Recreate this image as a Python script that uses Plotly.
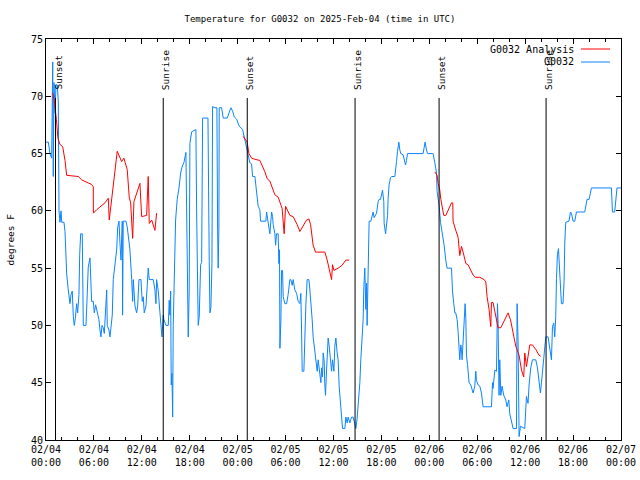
import pandas as pd
import plotly.graph_objects as go

BASE = pd.Timestamp("2025-02-04 00:00")

# ---- data (hours since 2025-02-04 00:00 UTC, degrees F) ----
obs_hours = [0.00, 0.29, 0.50, 0.71, 0.84, 0.91, 1.00, 1.13, 1.25, 1.41, 1.54, 1.63, 1.75, 1.88, 1.97, 2.25, 2.38, 2.50, 2.59, 2.79,
             2.92, 3.00, 3.13, 3.29, 3.42, 3.54, 3.67, 3.84, 3.96, 4.13, 4.22, 4.34, 4.54, 4.59, 4.67, 5.01, 5.09, 5.29, 5.51, 5.63,
             5.71, 5.92, 6.05, 6.22, 6.42, 6.63, 6.76, 6.88, 7.01, 7.17, 7.30, 7.47, 7.60, 7.67, 7.88, 8.01, 8.14, 8.30, 8.42, 8.64,
             8.85, 8.97, 9.14, 9.26, 9.39, 9.55, 9.59, 9.67, 10.01, 10.17, 10.30, 10.51, 10.73, 10.85, 10.93, 11.05, 11.14, 11.35, 11.48, 11.64,
             11.89, 12.05, 12.18, 12.30, 12.52, 12.68, 12.80, 12.93, 13.43, 13.64, 13.77, 13.85, 14.06, 14.27, 14.39, 14.52, 14.68, 14.77, 15.02, 15.31,
             15.43, 15.52, 15.61, 15.68, 15.77, 15.86, 15.93, 16.02, 16.11, 16.23, 16.36, 16.43, 16.65, 16.86, 17.06, 17.27, 17.52, 17.68, 17.81, 17.93,
             18.02, 18.24, 18.77, 18.86, 18.94, 19.06, 19.19, 19.36, 19.49, 19.51, 19.61, 20.28, 20.31, 20.44, 20.53, 20.65, 20.78, 20.86, 21.15, 21.40,
             21.49, 21.56, 21.65, 21.69, 21.99, 22.19, 22.69, 22.94, 23.15, 23.37, 23.57, 23.87, 24.19, 24.62, 24.78, 24.91, 25.12, 25.32, 25.53, 25.74,
             25.87, 26.16, 26.24, 26.44, 26.57, 26.78, 26.87, 27.53, 27.62, 27.82, 27.95, 28.03, 28.25, 28.37, 28.45, 28.66, 28.75, 28.87, 29.07, 29.16,
             29.24, 29.29, 29.41, 29.50, 29.62, 29.70, 29.91, 30.13, 30.32, 30.54, 30.66, 30.83, 30.95, 31.16, 31.38, 31.58, 31.79, 31.91, 32.00, 32.08,
             32.29, 32.41, 32.54, 32.70, 32.92, 33.04, 33.17, 33.33, 33.45, 33.67, 33.79, 33.96, 34.08, 34.21, 34.29, 34.42, 34.51, 34.63, 34.71, 34.83,
             34.92, 35.00, 35.13, 35.26, 35.33, 35.46, 35.63, 35.76, 35.88, 36.05, 36.17, 36.30, 36.46, 36.58, 36.71, 36.88, 37.01, 37.13, 37.42, 37.55,
             37.71, 37.83, 38.05, 38.26, 38.46, 38.59, 38.80, 38.96, 39.09, 39.30, 39.42, 39.51, 39.64, 39.71, 39.80, 39.92, 40.05, 40.14, 40.21, 40.34,
             40.46, 40.68, 40.84, 40.96, 41.09, 41.26, 41.39, 41.59, 41.71, 41.89, 42.01, 42.14, 42.30, 42.34, 42.52, 42.64, 42.77, 42.84, 42.97, 43.14,
             43.27, 43.68, 43.80, 43.89, 44.02, 44.18, 44.31, 44.43, 44.72, 44.84, 45.02, 45.14, 45.27, 47.22, 47.34, 47.47, 47.65, 47.77, 48.40, 48.47,
             48.69, 48.90, 48.97, 49.22, 49.40, 49.65, 49.85, 50.06, 50.22, 50.78, 50.90, 51.06, 51.19, 51.31, 51.48, 51.60, 51.73, 51.81, 51.94, 52.03,
             52.10, 52.23, 52.35, 52.48, 52.57, 52.65, 52.78, 52.85, 52.98, 53.19, 53.35, 53.48, 53.69, 53.82, 53.90, 54.11, 54.32, 54.53, 54.73, 55.78,
             55.91, 55.98, 56.20, 56.41, 56.53, 56.61, 56.73, 56.82, 56.95, 57.11, 57.32, 57.57, 57.73, 57.95, 58.07, 58.29, 58.49, 58.91, 58.99, 59.11,
             59.24, 59.41, 59.95, 60.16, 60.36, 60.49, 60.70, 60.91, 61.33, 61.54, 61.74, 61.91, 62.04, 62.24, 62.45, 62.58, 62.87, 62.99, 63.17, 63.29,
             63.42, 63.58, 63.70, 63.83, 63.92, 64.04, 64.17, 64.24, 64.42, 64.54, 64.74, 64.87, 64.96, 65.08, 65.49, 65.67, 65.79, 66.00, 66.21, 66.42,
             67.46, 67.58, 67.75, 68.00, 68.17, 68.30, 70.80, 70.93, 71.21, 71.34, 71.50, 72.00]
obs_temp = [66.0, 66.0, 65.0, 64.6, 73.0, 63.0, 71.2, 68.5, 71.0, 71.0, 69.5, 60.0, 59.0, 60.0, 59.0, 59.0, 58.2, 56.6, 54.5, 53.1,
            52.2, 51.9, 52.7, 53.0, 50.8, 50.0, 50.6, 51.9, 51.1, 52.7, 56.2, 58.0, 58.0, 54.0, 50.0, 50.0, 51.6, 55.1, 55.9, 54.0,
            52.1, 52.1, 51.1, 51.8, 51.2, 50.5, 49.6, 49.0, 50.0, 49.8, 49.3, 51.9, 53.1, 50.0, 49.6, 49.0, 50.0, 50.9, 54.0, 55.4,
            56.6, 58.5, 59.1, 57.2, 55.7, 59.1, 50.9, 59.1, 59.1, 58.6, 57.6, 56.6, 54.0, 52.1, 54.0, 52.1, 51.7, 51.1, 51.7, 54.0,
            54.0, 52.1, 52.5, 51.1, 51.7, 53.5, 55.0, 54.0, 54.0, 53.1, 51.9, 54.0, 53.0, 51.1, 49.8, 49.0, 50.9, 50.5, 50.0, 50.0,
            52.2, 50.9, 53.0, 44.8, 45.8, 42.0, 50.0, 53.2, 57.8, 59.2, 60.4, 61.0, 62.0, 63.3, 63.9, 64.2, 65.1, 53.1, 49.0, 53.1,
            65.9, 66.9, 67.1, 60.0, 54.2, 50.0, 50.8, 55.3, 55.5, 64.2, 68.1, 68.1, 64.7, 55.6, 51.1, 51.6, 55.4, 69.1, 69.0, 69.0,
            58.5, 55.0, 58.5, 69.0, 69.0, 68.1, 68.1, 68.7, 69.0, 68.7, 68.2, 68.0, 67.4, 67.1, 66.6, 66.0, 65.5, 64.9, 64.2, 64.1,
            63.0, 63.0, 62.3, 61.2, 60.4, 60.1, 59.1, 59.1, 59.9, 58.9, 58.6, 58.0, 59.9, 59.5, 58.8, 58.0, 57.0, 58.0, 58.0, 55.4,
            56.6, 48.0, 50.3, 54.8, 54.8, 52.5, 51.9, 51.9, 52.7, 54.0, 54.0, 53.5, 54.0, 53.1, 52.8, 52.1, 51.9, 52.8, 49.6, 46.0,
            46.0, 49.6, 51.8, 54.0, 54.0, 53.1, 52.1, 50.5, 49.0, 47.9, 46.9, 46.0, 47.0, 46.0, 45.4, 45.0, 46.3, 45.5, 47.6, 46.9,
            44.7, 43.9, 46.1, 48.2, 48.9, 48.2, 47.0, 46.0, 47.0, 46.0, 48.2, 48.9, 47.6, 47.0, 44.7, 43.1, 42.0, 41.0, 41.0, 42.0,
            41.5, 42.0, 41.5, 42.0, 42.0, 41.5, 41.0, 41.9, 43.1, 45.0, 47.0, 48.2, 48.7, 50.5, 53.4, 55.0, 51.4, 53.7, 50.0, 56.7,
            59.1, 59.1, 59.6, 59.9, 59.4, 59.6, 59.8, 60.8, 61.0, 61.0, 61.4, 61.8, 60.8, 58.9, 58.0, 58.8, 59.6, 61.1, 62.3, 62.9,
            63.0, 63.0, 63.6, 64.3, 65.2, 66.0, 65.3, 65.0, 64.9, 64.4, 64.0, 64.4, 65.0, 65.0, 65.5, 66.0, 65.3, 65.0, 65.0, 65.0,
            64.2, 63.3, 61.7, 60.5, 59.0, 58.0, 57.0, 55.7, 55.0, 55.0, 53.0, 51.9, 51.1, 51.1, 50.5, 49.5, 48.2, 47.0, 48.3, 47.9,
            47.0, 48.4, 50.6, 51.9, 50.6, 47.4, 46.6, 46.1, 45.0, 44.8, 44.4, 44.1, 44.7, 46.0, 45.2, 44.8, 44.7, 44.1, 42.9, 42.9,
            45.0, 44.5, 46.1, 46.0, 51.9, 50.2, 43.9, 47.0, 43.9, 44.7, 43.9, 43.5, 42.9, 43.5, 42.3, 41.6, 41.0, 41.0, 51.9, 48.7,
            40.3, 41.2, 41.0, 43.8, 43.2, 44.8, 46.3, 47.0, 47.0, 46.3, 45.0, 44.1, 45.0, 46.7, 48.2, 49.0, 49.0, 48.4, 47.6, 47.0,
            49.9, 50.2, 49.0, 50.8, 54.1, 56.2, 56.7, 55.7, 53.3, 51.9, 51.9, 53.8, 57.2, 59.0, 59.1, 59.9, 59.8, 59.1, 59.1, 59.9,
            59.9, 60.4, 61.0, 61.0, 61.7, 62.0, 62.0, 59.9, 59.9, 61.2, 62.0, 62.0]

ana1_hours = [0.85, 1.05, 1.30, 1.50, 1.75, 2.09, 2.38, 2.59, 4.04, 4.47, 5.72, 5.92, 5.93, 6.35, 7.38, 7.80, 7.92, 8.22, 8.42, 8.92,
              9.47, 9.76, 9.92, 10.17, 10.42, 10.60, 10.85, 11.01, 11.76, 11.98, 12.60, 12.80, 12.93, 13.23, 13.64, 13.85]
ana1_temp = [70.3, 69.5, 68.0, 66.3, 65.8, 65.6, 64.4, 63.1, 63.0, 62.7, 62.3, 62.1, 59.8, 60.1, 60.7, 61.1, 59.2, 61.1, 62.1, 65.2,
             64.3, 64.6, 64.2, 63.6, 61.2, 60.7, 57.6, 60.8, 62.4, 59.5, 59.6, 63.0, 58.9, 59.2, 58.3, 59.8]

ana2_hours = [24.69, 25.19, 25.41, 25.74, 26.16, 26.78, 27.41, 27.70, 28.03, 28.32, 28.66, 29.07, 29.29, 29.57, 29.82, 30.00, 30.54, 30.95, 31.45, 31.79,
              32.63, 32.92, 33.13, 33.45, 33.75, 34.29, 34.92, 35.21, 35.46, 35.76, 35.88, 36.05, 36.58, 37.01, 37.55, 37.96]
ana2_temp = [66.5, 66.0, 65.0, 64.6, 64.5, 64.4, 63.4, 62.8, 62.6, 62.0, 61.4, 61.2, 60.7, 60.2, 58.0, 60.4, 59.6, 59.5, 58.8, 58.2,
             59.2, 59.3, 58.8, 57.0, 56.4, 56.4, 56.4, 55.7, 54.8, 54.0, 55.3, 54.8, 55.0, 55.2, 55.7, 55.7]

ana3_hours = [48.69, 48.97, 49.10, 49.31, 49.44, 49.65, 49.81, 50.06, 50.35, 50.78, 50.94, 50.97, 51.31, 51.60, 51.81, 52.03, 52.23, 52.57, 52.85, 53.15,
              53.48, 53.78, 54.32, 54.86, 55.07, 55.23, 55.48, 55.69, 55.78, 55.98, 56.28, 56.61, 56.95, 57.45, 57.86, 58.16, 58.49, 58.82, 59.24, 59.54,
              59.82, 59.95, 60.16, 60.58, 60.91, 61.33, 61.74, 61.95]
ana3_temp = [63.4, 63.1, 62.4, 61.8, 61.0, 60.2, 59.6, 59.6, 60.1, 60.7, 60.7, 59.1, 58.3, 57.7, 56.1, 56.9, 56.4, 55.4, 55.3, 54.8,
             54.4, 54.2, 54.2, 54.0, 53.8, 52.5, 51.4, 49.9, 52.0, 52.0, 50.9, 49.8, 49.8, 50.5, 51.1, 50.5, 49.3, 48.2, 47.4, 46.1,
             45.5, 47.6, 46.4, 48.3, 48.3, 47.9, 47.4, 47.3]

sun_labels = ["Sunset", "Sunrise", "Sunset", "Sunrise", "Sunset", "Sunrise"]
sun_hours = [1.19, 14.68, 25.20, 38.70, 49.22, 62.62]

title_text = "Temperature for G0032 on 2025-Feb-04 (time in UTC)"
legend_names = ["G0032 Analysis", "G0032"]
y_label = "degrees F"

RED = "#ff0000"
BLUE = "#0a84ff"
FONT = "DejaVu Sans Mono"


def to_time(hours):
    return [BASE + pd.Timedelta(hours=h) for h in hours]


fig = go.Figure()
fig.add_trace(go.Scatter(x=to_time(obs_hours), y=obs_temp, mode="lines",
                         line=dict(color=BLUE, width=1), name=legend_names[1], showlegend=False))
for hh, tt in [(ana1_hours, ana1_temp), (ana2_hours, ana2_temp), (ana3_hours, ana3_temp)]:
    fig.add_trace(go.Scatter(x=to_time(hh), y=tt, mode="lines",
                             line=dict(color=RED, width=1), name=legend_names[0], showlegend=False))

# sunrise / sunset markers
for lab, h in zip(sun_labels, sun_hours):
    t = BASE + pd.Timedelta(hours=h)
    fig.add_shape(type="line", xref="x", yref="paper", x0=t, x1=t, y0=0, y1=0.853,
                  line=dict(color="black", width=1))
    fig.add_annotation(x=t, xref="x", y=0.868, yref="paper", text=lab, textangle=-90,
                       showarrow=False, xanchor="center", yanchor="bottom", xshift=3,
                       font=dict(family=FONT, size=9.5, color="black"))

# legend drawn gnuplot-style (text on the left, sample on the right)
for i, (name, col) in enumerate(zip(legend_names, [RED, BLUE])):
    ypos = 1 - (10 + 13 * i) / 401
    fig.add_annotation(x=1, xref="paper", y=ypos, yref="paper", text=name, showarrow=False,
                       xanchor="right", yanchor="middle", xshift=-45,
                       font=dict(family=FONT, size=10, color="black"))
    fig.add_shape(type="line", xref="paper", yref="paper", x0=(581 - 46) / 575, x1=(610 - 46) / 575,
                  y0=ypos, y1=ypos, line=dict(color=col, width=1))

fig.add_annotation(x=0, xref="paper", y=0.5, yref="paper", text=y_label, textangle=-90,
                   showarrow=False, xanchor="center", yanchor="middle", xshift=-36,
                   font=dict(family=FONT, size=9.5, color="black"))

fig.update_layout(
    width=640, height=480,
    margin=dict(l=46, r=19, t=39, b=40, autoexpand=False),
    paper_bgcolor="white", plot_bgcolor="white",
    font=dict(family=FONT, size=9, color="black"),
    title=dict(text=title_text, x=0.5, xref="container", xanchor="center",
               y=1 - 19 / 480, yref="container", yanchor="middle",
               font=dict(family=FONT, size=9, color="black")),
    showlegend=False,
)
fig.update_xaxes(
    range=[BASE, BASE + pd.Timedelta(hours=72)], automargin=False,
    tickmode="linear", tick0=BASE, dtick=6 * 3600 * 1000,
    tickformat="%m/%d<br>%H:%M", tickfont=dict(size=10),
    ticks="inside", ticklen=5, tickcolor="black",
    minor=dict(dtick=2 * 3600 * 1000, tick0=BASE, ticks="inside", ticklen=3, tickcolor="black"),
    showline=True, linecolor="black", linewidth=1, mirror="allticks",
    showgrid=False, zeroline=False,
)
fig.update_yaxes(
    range=[40, 75], automargin=False, tickmode="linear", tick0=40, dtick=5,
    tickfont=dict(size=10),
    ticks="inside", ticklen=5, tickcolor="black",
    showline=True, linecolor="black", linewidth=1, mirror="allticks",
    showgrid=False, zeroline=False,
)

fig.write_html("out.html")
